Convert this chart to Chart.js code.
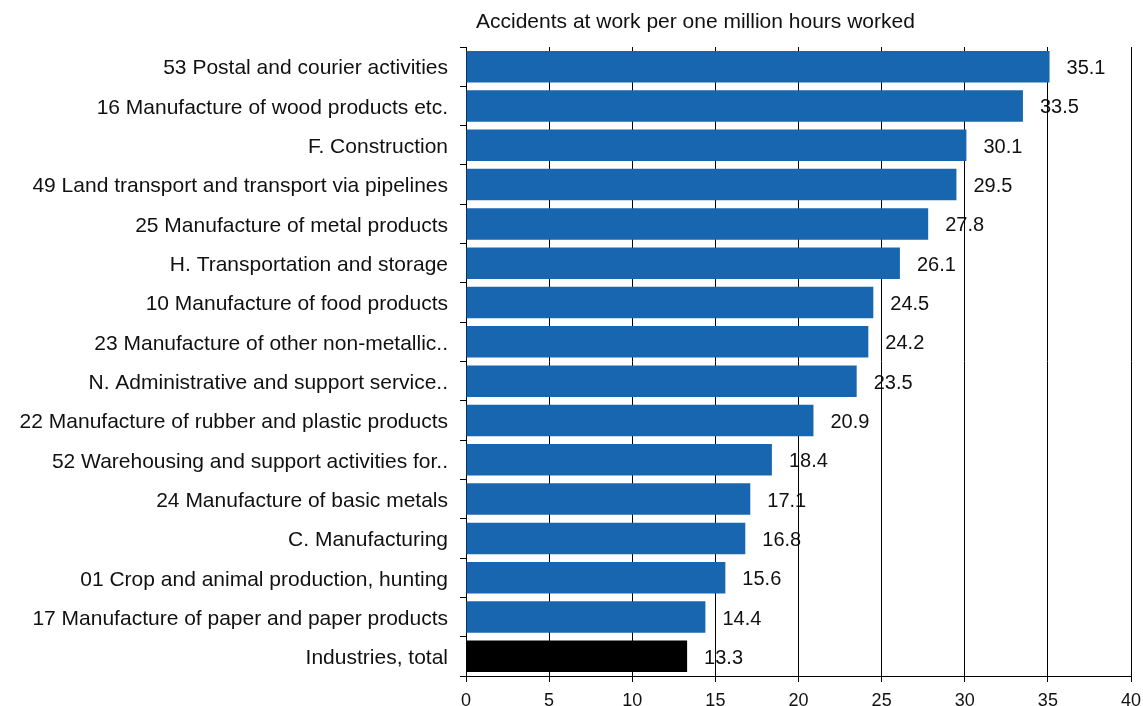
<!DOCTYPE html>
<html>
<head>
<meta charset="utf-8">
<script src="https://cdn.jsdelivr.net/npm/chart.js@4/dist/chart.umd.min.js"></script>
<style>
  html, body { margin: 0; padding: 0; background: #fff; }
  #wrap { width: 1143px; height: 706px; position: relative; }
</style>
</head>
<body>
<div id="wrap"><canvas id="accChart"></canvas></div>
<script>
const chartTitle = 'Accidents at work per one million hours worked';

const industries = [
  '53 Postal and courier activities',
  '16 Manufacture of wood products etc.',
  'F. Construction',
  '49 Land transport and transport via pipelines',
  '25 Manufacture of metal products',
  'H. Transportation and storage',
  '10 Manufacture of food products',
  '23 Manufacture of other non-metallic..',
  'N. Administrative and support service..',
  '22 Manufacture of rubber and plastic products',
  '52 Warehousing and support activities for..',
  '24 Manufacture of basic metals',
  'C. Manufacturing',
  '01 Crop and animal production, hunting',
  '17 Manufacture of paper and paper products',
  'Industries, total'
];

const accidentRate = [35.1, 33.5, 30.1, 29.5, 27.8, 26.1, 24.5, 24.2, 23.5, 20.9, 18.4, 17.1, 16.8, 15.6, 14.4, 13.3];

const xTicksMin = 0;
const xTicksMax = 40;
const xTicksStep = 5;

const barBlue = '#1866b0';
const barTotal = '#000000';
const fontFamily = '"Liberation Sans", Arial, sans-serif';

const barColors = industries.map(name => name === 'Industries, total' ? barTotal : barBlue);

// value labels go under the grid lines, like in the original
const valueLabels = {
  id: 'valueLabels',
  beforeDraw(chart) {
    const meta = chart.getDatasetMeta(0);
    if (!meta.data.length) return;
    const ctx = chart.ctx;
    ctx.save();
    ctx.font = '20px ' + fontFamily;
    ctx.fillStyle = '#111';
    ctx.textAlign = 'left';
    ctx.textBaseline = 'middle';
    meta.data.forEach((bar, i) => {
      ctx.fillText(accidentRate[i].toFixed(1), bar.x + 17, bar.y + 2);
    });
    ctx.restore();
  },
  afterDraw(chart) {
    const ctx = chart.ctx;
    ctx.save();
    ctx.font = '21px ' + fontFamily;
    ctx.fillStyle = '#111';
    ctx.textAlign = 'left';
    ctx.textBaseline = 'middle';
    ctx.fillText(chartTitle, chart.chartArea.left + 10, 22);
    ctx.restore();
  }
};

new Chart(document.getElementById('accChart'), {
  type: 'bar',
  data: {
    labels: industries,
    datasets: [{
      data: accidentRate,
      backgroundColor: barColors,
      borderWidth: 0,
      barPercentage: 0.8,
      categoryPercentage: 1.0
    }]
  },
  options: {
    indexAxis: 'y',
    responsive: true,
    maintainAspectRatio: false,
    animation: false,
    layout: { padding: { top: 47, right: 12, left: 0, bottom: 0 } },
    plugins: {
      legend: { display: false },
      tooltip: { enabled: false }
    },
    scales: {
      x: {
        min: xTicksMin,
        max: xTicksMax,
        ticks: {
          stepSize: xTicksStep,
          color: '#111',
          padding: 8,
          maxRotation: 0,
          font: { family: fontFamily, size: 18 }
        },
        grid: { color: '#000', lineWidth: 1, tickLength: 6, drawTicks: true },
        border: { display: true, color: '#000', width: 1 },
        afterFit(scale) {
          scale.height = 30;
          scale.paddingRight = 0;
          scale.paddingLeft = 0;
        }
      },
      y: {
        ticks: {
          color: '#111',
          padding: 12,
          labelOffset: 2,
          autoSkip: false,
          font: { family: fontFamily, size: 21 }
        },
        grid: { drawOnChartArea: false, color: '#000', tickLength: 6, offset: true },
        border: { display: true, color: '#000', width: 1 },
        afterFit(scale) { scale.width = 466; }
      }
    }
  },
  plugins: [valueLabels]
});
</script>
</body>
</html>
